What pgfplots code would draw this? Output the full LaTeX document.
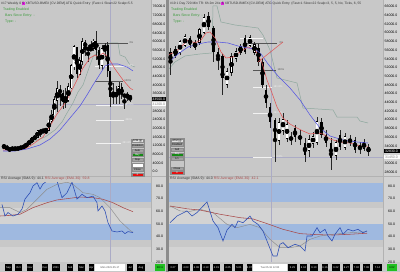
\documentclass[border=0pt]{standalone}
\usepackage{pgfplots}
\pgfplotsset{compat=1.18}
\usepackage{pgfplotstable}
\usepackage{fontspec}
\setmainfont{Liberation Sans}

\definecolor{bgc}{HTML}{C8C8C8}
\definecolor{rsilight}{HTML}{D3D3D3}
\definecolor{band}{HTML}{9FB9E0}
\definecolor{colbg}{HTML}{D3D3D3}
\definecolor{sepc}{HTML}{8C8C8C}
\definecolor{emared}{HTML}{E25555}
\definecolor{emablue}{HTML}{5555E2}
\definecolor{trail}{HTML}{8EA89E}
\definecolor{rsiblue}{HTML}{2F50B5}
\definecolor{rsired}{HTML}{A84A4A}
\definecolor{rsigrey}{HTML}{8C8C8C}
\definecolor{cross}{HTML}{ABABC6}
\definecolor{txtgreen}{HTML}{3A9A3A}
\definecolor{fibdark}{HTML}{555555}
\definecolor{fiblight}{HTML}{F2F2F2}
\definecolor{btngrey}{HTML}{A2A2A2}
\definecolor{btngreen}{HTML}{168A16}
\definecolor{btnred}{HTML}{E51010}
\definecolor{tagmag}{HTML}{E020E0}
\definecolor{timegreen}{HTML}{22C022}

\newcommand{\tf}{\fontsize{3.5}{4}\selectfont}
\newcommand{\tfh}{\fontsize{3.3}{4}\selectfont}
\newcommand{\tfx}{\fontsize{2.6}{3}\selectfont}
\newcommand{\magtag}[1]{{\setlength{\fboxsep}{0.4pt}\colorbox{tagmag}{#1}}}

% weekly candles (left)
\pgfplotstableread{
x o h l c
4.0 11650 11800 11150 11660
9.6 10250 10600 9900 10320
12.4 10320 11100 10200 10770
20.8 10700 11480 10550 11380
23.6 11380 11720 11230 11500
26.4 11500 13350 11400 13030
29.2 13030 14000 12900 13780
32.0 13780 15970 13250 15480
34.8 15480 16500 14850 15960
37.6 15960 18800 15800 18680
43.2 18180 19900 18000 19150
46.0 19150 19400 17600 19270
48.8 19270 24300 19000 23480
51.6 23480 28400 22400 26280
54.4 26280 34800 26100 33000
57.2 33000 41900 27700 38150
65.6 32260 38500 29150 33100
68.4 33100 40950 32300 38900
71.2 38900 49700 37900 48580
74.0 48580 58300 47000 57480
79.6 45130 52640 44950 50970
82.4 50970 61780 49270 59770
90.8 55840 60100 55500 57090
93.6 57090 61000 55400 60000
102.0 49100 58460 47000 56600
104.8 56600 59500 53000 58200
113.2 34700 40800 31200 35600
116.0 35600 39400 31100 35800
118.8 35800 41300 31000 39000
127.2 34700 36600 32700 35300
}\leftup
\pgfplotstableread{
x o h l c
6.8 11660 12090 9900 10250
15.2 10770 10800 10150 10710
18.0 10710 10950 10400 10700
40.4 18680 19480 16200 18180
60.0 38150 40100 30300 36000
62.8 36000 37800 28850 32260
76.8 57480 57500 43000 45130
85.2 59770 60600 53270 57350
88.0 57350 58300 50400 55840
96.4 60000 64850 51600 56150
99.2 56150 57500 47100 49100
107.6 58200 59600 43800 46400
110.4 46400 46400 30000 34700
121.6 39000 41000 33300 35500
124.4 35500 36000 28800 34700
130.0 35300 35400 32100 33500
}\leftdown
% 36h candles (right)
\pgfplotstableread{
x o h l c
175.5 54900 56960 54210 56040
180 55590 58340 54900 57880
185 57190 59720 56730 59030
195 56730 58340 56040 57650
199.5 57880 61100 57190 60640
204 60180 64320 59720 63400
227 48230 51910 47310 50990
231.5 50990 55360 50070 54440
236 54210 56500 53290 55590
240.5 55590 57420 54900 56730
250 57190 59490 56730 58800
254.5 55590 57880 54900 57190
279 35350 40410 34200 39260
283 37650 41560 36500 39950
287 35810 39950 34890 38800
309 33050 36500 31450 35350
313 34660 37190 33520 36040
317 34890 40640 34200 39490
336 31900 35350 30760 34660
345 33740 36960 33050 36040
364 33520 35580 32820 34660
}\rightup
\pgfplotstableread{
x o h l c
170.5 55590 56500 50300 53060
190 58800 59260 56500 57190
208.5 63860 64780 60640 61330
213.5 61100 61560 53290 55590
218 55590 56500 51450 53750
222.5 54670 55130 45700 49610
245 58800 59490 55130 55590
258.5 56500 57420 52370 53290
262.5 53290 54210 47310 47990
266 46850 47990 42710 43860
270 42940 43860 38110 39490
275 39950 40410 30300 35350
291 36040 37190 34200 35350
295 38110 38800 34890 36040
300 36500 37650 34200 35350
305 34660 35810 30300 31900
321.5 39490 40410 35810 36500
326 36500 37650 33740 34660
331 34660 35810 28460 31220
340 36500 37650 33050 33740
350 35350 36500 33970 34890
355 35350 36040 32360 33050
360 34200 34890 32140 33050
368.5 33740 34430 31680 32600
}\rightdown

% #1 up table, #2 down table, #3 white body width, #4 black width, #5 min half body, #6 outline pad
\newcommand{\drawcandles}[6]{%
\addplot[only marks, mark=none, error bars/.cd, y dir=both, y explicit, error mark=none,
  error bar style={draw=black!85, line width=0.35pt}]
  table[x=x, y expr={(\thisrow{h}+\thisrow{l})/2}, y error expr={(\thisrow{h}-\thisrow{l})/2}] {#1};
\addplot[only marks, mark=none, error bars/.cd, y dir=both, y explicit, error mark=none,
  error bar style={draw=black!85, line width=0.35pt}]
  table[x=x, y expr={(\thisrow{h}+\thisrow{l})/2}, y error expr={(\thisrow{h}-\thisrow{l})/2}] {#2};
\addplot[only marks, mark=none, error bars/.cd, y dir=both, y explicit, error mark=none,
  error bar style={draw=black, line width=#4}]
  table[x=x, y expr={(\thisrow{o}+\thisrow{c})/2}, y error expr={abs(\thisrow{c}-\thisrow{o})/2+#5}] {#2};
\addplot[only marks, mark=none, error bars/.cd, y dir=both, y explicit, error mark=none,
  error bar style={draw=black, line width=#4}]
  table[x=x, y expr={(\thisrow{o}+\thisrow{c})/2}, y error expr={abs(\thisrow{c}-\thisrow{o})/2+#5+#6}] {#1};
\addplot[only marks, mark=none, error bars/.cd, y dir=both, y explicit, error mark=none,
  error bar style={draw=white, line width=#3}]
  table[x=x, y expr={(\thisrow{o}+\thisrow{c})/2}, y error expr={abs(\thisrow{c}-\thisrow{o})/2+#5}] {#1};
}

\pgfplotsset{
  panel/.style={scale only axis, anchor=south west,
    axis x line=none, axis y line*=right, y axis line style={draw=none},
    ytick style={draw=none}, scaled y ticks=false,
    yticklabel style={font=\tf, inner sep=0pt, xshift=1.5pt, text=black},
    /pgf/number format/fixed, /pgf/number format/fixed zerofill,
    /pgf/number format/precision=1, /pgf/number format/1000 sep={},
    /pgf/number format/assume math mode=true},
  fibd/.style={fibdark, line width=0.5pt},
  fibl/.style={fiblight, line width=0.5pt},
}

\newcommand{\btn}[5]{\node[fill=#3, draw=black!45, line width=0.2pt, minimum width=11.5pt,
  minimum height=3.2pt, inner sep=0pt, text=#4, font=\tfx] at (#1,#2) {#5};}
\newcommand{\tb}[3]{\node[fill=black, text=white, minimum width=#2pt, minimum height=6.5pt,
  inner sep=0pt, font=\tfx] at (#1,4.6) {#3};}

\begin{document}
\begin{tikzpicture}[x=1pt,y=1pt]
\useasboundingbox (0,0) rectangle (400,272);
\fill[bgc] (0,0) rectangle (400,272);
\fill[colbg] (151,10) rectangle (166,272);
\fill[colbg] (383,10) rectangle (400,272);
% RSI backgrounds
\fill[rsilight] (0,48) rectangle (151,63.7);
\fill[rsilight] (0,10) rectangle (151,25.2);
\fill[rsilight] (169,48) rectangle (383,63.7);
\fill[rsilight] (169,10) rectangle (383,25.2);
\fill[band] (0,70.3) rectangle (151,89);
\fill[band] (0,31.5) rectangle (151,48);
\fill[band] (169,70.3) rectangle (383,89);
\fill[band] (169,31.5) rectangle (383,48);
% separators
\fill[sepc] (166,0) rectangle (168.7,272);
\draw[black!30, line width=0.3pt] (151,10) -- (151,272);
\draw[black!30, line width=0.3pt] (383,10) -- (383,272);
\draw[black!30, line width=0.3pt] (0,95.5) -- (166,95.5);
\draw[black!30, line width=0.3pt] (169,95.5) -- (400,95.5);
% crosshairs
\draw[cross, line width=0.4pt] (110,10) -- (110,272);
\draw[cross, line width=0.4pt] (0,168) -- (151,168);
\draw[cross, line width=0.4pt] (271,10) -- (271,272);
\draw[cross, line width=0.4pt] (169,115) -- (383,115);

% ---------- left price ----------
\begin{axis}[panel, at={(0pt,96pt)}, width=151pt, height=176pt,
  xmin=0, xmax=151, ymin=-1977, ymax=79124,
  ytick={0,4000,8000,12000,16000,20000,24000,28000,36000,40000,44000,48000,52000,56000,60000,64000,68000,72000,76000}]
\addplot[trail, line width=0.5pt] coordinates {(25,11390) (35,14150) (45,15990) (55,19220) (62,22910) (67,27050) (73,31660) (78,36730) (83,39960) (90,49170) (93,52860) (100,56090) (105,57000) (110,59310) (118,59310) (120,53780) (125,52860) (130,49170) (135,48250)};
\addplot[fibd] coordinates {(96,59310) (128,59310)};
\addplot[fibl] coordinates {(95,48710) (127,48710)};
\addplot[fibd] coordinates {(95,41800) (123,41800)};
\addplot[fibl] coordinates {(96,30740) (123,30740)};
\addplot[fibl] coordinates {(96,23830) (124,23830)};
\addplot[fibl] coordinates {(96,13230) (121,13230)};
\node[anchor=west, font=\tfx, text=fibdark, inner sep=0.3pt] at (axis cs:129,59310) {0\%};
\node[anchor=west, font=\tfx, text=fiblight, inner sep=0.3pt] at (axis cs:128,48710) {50\%};
\node[anchor=west, font=\tfx, text=fibdark, inner sep=0.3pt] at (axis cs:124,41800) {100\%};
\node[anchor=west, font=\tfx, text=fiblight, inner sep=0.3pt] at (axis cs:124,30740) {161.8\%};
\node[anchor=west, font=\tfx, text=fiblight, inner sep=0.3pt] at (axis cs:125,23830) {200\%};
\node[anchor=west, font=\tfx, text=fiblight, inner sep=0.3pt] at (axis cs:122,13230) {261.8\%};
\drawcandles{\leftup}{\leftdown}{1.3pt}{1.95pt}{150}{220}
\addplot[emared, line width=0.55pt] coordinates {(3,10000) (15,10000) (25,10470) (33,12770) (43,16000) (50,21060) (57,26590) (63,30280) (67,33040) (72,37650) (77,42260) (83,47790) (90,52400) (95,53780) (98,52860) (103,54700) (108,52860) (115,47330) (123,42260) (130,38570) (133,37650)};
\addplot[emablue, line width=0.55pt] coordinates {(3,9540) (15,9540) (27,10470) (40,12310) (50,15070) (60,19220) (70,24750) (80,30280) (87,35350) (93,39960) (100,45030) (105,48710) (110,49630) (118,49630) (127,48250) (133,46410)};
\end{axis}

% ---------- right price ----------
\begin{axis}[panel, at={(169pt,96pt)}, width=214pt, height=176pt,
  xmin=169, xmax=383, ymin=27078, ymax=67540,
  ytick={28000,30000,34000,36000,38000,40000,42000,44000,46000,48000,50000,52000,54000,56000,58000,60000,62000,64000,66000}]
\addplot[trail, line width=0.5pt] coordinates {(168,51450) (175,53290) (185,54670) (200,55130) (212,55360) (213,66160) (217,66160) (221,62480) (235,61790) (258,61100) (263,59490) (270,56040) (277,49610) (297,48460) (303,42710) (333,42250) (337,40640) (357,40640) (360,39720) (368,39260)};
\addplot[fibd] coordinates {(243,57650) (277,57650)};
\addplot[fibd] coordinates {(253,51450) (276,51450)};
\addplot[fibl] coordinates {(253,47540) (272,47540)};
\addplot[fibl] coordinates {(253,41560) (272,41560)};
\addplot[fibl] coordinates {(253,31450) (272,31450)};
\addplot[fiblight, line width=0.6pt] coordinates {(240,58800) (263,58800)};
\node[anchor=west, font=\tfx, text=fibdark, inner sep=0.3pt] at (axis cs:279,57650) {0\%};
\node[anchor=west, font=\tfx, text=fibdark, inner sep=0.3pt] at (axis cs:277,51450) {100\%};
\node[anchor=west, font=\tfx, text=fiblight, inner sep=0.3pt] at (axis cs:273,47540) {161.8\%};
\node[anchor=west, font=\tfx, text=fiblight, inner sep=0.3pt] at (axis cs:273,41560) {261.8\%};
\node[anchor=west, font=\tfx, text=fiblight, inner sep=0.3pt] at (axis cs:273,31450) {423.6\%};
\drawcandles{\rightup}{\rightdown}{1.9pt}{2.6pt}{80}{110}
\addplot[emared, line width=0.55pt] coordinates {(168,54900) (175,55590) (181,56730) (188,58340) (195,57650) (201,58340) (206,59950) (210,60180) (215,58800) (221,55590) (226,54210) (233,54440) (240,55590) (248,56730) (255,56040) (258,54900) (262,53060) (267,49150) (272,46160) (277,42940) (283,40410) (290,39030) (297,38110) (303,37420) (310,36730) (317,36960) (323,36730) (330,35580) (340,34890) (350,34660) (360,33970) (368,33740)};
\addplot[emablue, line width=0.55pt] coordinates {(168,53060) (178,55130) (188,56730) (198,57420) (208,57880) (218,57880) (228,57650) (238,56960) (248,56500) (255,56270) (261,55130) (268,52830) (278,50070) (290,47310) (300,44550) (310,41100) (320,38110) (330,36270) (343,35350) (357,34890) (368,34660)};
\addplot[emared, line width=0.5pt] coordinates {(258,53290) (283,57880)};
\end{axis}

% ---------- left RSI ----------
\begin{axis}[panel, at={(0pt,10pt)}, width=151pt, height=79pt,
  xmin=0, xmax=151, ymin=20, ymax=82.37, ytick={20,30,...,80},
  yticklabel style={xshift=3.5pt}]
\addplot[rsigrey, line width=0.45pt] coordinates {(0,62.9) (10,62.9) (20,59) (27,61.6) (37,69.5) (47,77.4) (57,81.3) (67,83) (73,81.3) (83,74.7) (93,73.4) (100,70.8) (110,62.9) (120,52.4) (130,45) (133,43.5)};
\addplot[rsired, line width=0.55pt] coordinates {(0,56.3) (10,56.8) (20,57.7) (33,62.9) (47,66.8) (57,69) (67,70) (80,71.3) (93,70.8) (103,69.5) (113,66.8) (123,62.9) (133,59.7)};
\addplot[rsiblue, line width=0.6pt] coordinates {(2,65.5) (5,56.3) (8,59) (13,56.3) (18,57.7) (22,61.8) (25,69.7) (30,74.7) (33,80) (37,82.6) (40,77.6) (43,81.6) (47,84) (52,86) (57,84) (62,70.8) (67,74.7) (72,83) (77,69.7) (82,73.4) (87,70.8) (93,72) (97,66.8) (98,60.3) (102,64.2) (105,60.3) (108,51) (112,44.5) (117,43.7) (122,44.5) (125,42.4) (128,44) (133,43.2)};
\end{axis}

% ---------- right RSI ----------
\begin{axis}[panel, at={(169pt,10pt)}, width=214pt, height=79pt,
  xmin=169, xmax=383, ymin=20, ymax=82.37, ytick={20,30,...,80},
  yticklabel style={xshift=3.5pt}]
\addplot[rsigrey, line width=0.45pt] coordinates {(170,64.2) (180,60.3) (190,60) (200,61.6) (213,59) (227,49.7) (237,47.1) (250,49.7) (260,47.1) (270,37.9) (280,31.3) (290,31.3) (300,32.6) (310,37.9) (320,40.5) (333,41.9) (350,43.1) (367,44)};
\addplot[rsired, line width=0.55pt] coordinates {(170,64.2) (187,62) (200,61) (220,57.7) (240,55) (253,54) (267,50.3) (283,45.8) (300,42.4) (317,41.6) (333,41.3) (350,41.9) (367,42.7)};
\addplot[rsiblue, line width=0.6pt] coordinates {(170,51) (177,56.3) (187,60.3) (192,56.3) (197,59) (200,61.6) (207,67.4) (213,52.4) (218,47.1) (223,36.6) (227,45.2) (232,49.7) (235,47.1) (238,52.4) (243,51) (250,56.3) (253,52.4) (258,49.7) (263,44.5) (267,36.6) (273,24.7) (277,24.7) (280,34) (283,35.3) (288,31.3) (295,34) (300,32.6) (305,28.7) (307,40.5) (312,40.5) (317,47.1) (320,43.1) (325,45.8) (328,40.5) (332,36.6) (335,41.9) (340,47.1) (343,41.9) (348,45.8) (353,44.5) (358,45.8) (363,43.1) (367,44.5)};
\end{axis}

% ---------- overlays ----------
% headers
\node[anchor=west, inner sep=0pt, font=\tfh, text=black!80] at (1,268.3)
  {\#17 Weekly 0 \magtag{5} XBTUSD-BMEX [CV-DEM] ATG Quick Entry\enspace (Fast=1 Slow=22 Scalp=5.5};
\node[anchor=west, inner sep=0pt, font=\tfh, text=black!80] at (170,268.3)
  {\#19 1 Day 720 Min TR: 6h 2m 24s \magtag{5} XBTUSD-BMEX [CV-DEM] ATG Quick Entry\enspace (Fast=1 Slow=22 Scalp=3, 5, 5, No, Ticks, 6, 55};
\node[anchor=west, inner sep=0pt, font=\tf, text=txtgreen] at (3,262) {Trading Enabled};
\node[anchor=west, inner sep=0pt, font=\tf, text=txtgreen] at (5,256.5) {Bars Since Entry: -};
\node[anchor=west, inner sep=0pt, font=\tf, text=txtgreen] at (5,250.5) {Type: -};
\node[anchor=west, inner sep=0pt, font=\tf, text=txtgreen] at (171,262) {Trading Enabled};
\node[anchor=west, inner sep=0pt, font=\tf, text=txtgreen] at (173,256.5) {Bars Since Entry: -};
\node[anchor=west, inner sep=0pt, font=\tf, text=txtgreen] at (173,250.5) {Type: -};
% price tags on the scales
\node[anchor=west, fill=black, text=white, font=\tf, inner sep=0.5pt, minimum width=14.5pt] at (151.3,173) {33500.0};
\node[anchor=west, fill=white, text=black!50, font=\tf, inner sep=0.5pt, minimum width=14.5pt] at (151.3,168) {31200.0};
\node[anchor=west, fill=black, text=white, font=\tf, inner sep=0.5pt, minimum width=16pt] at (383.3,121) {32830.0};
\node[anchor=west, fill=white, text=black!50, font=\tf, inner sep=0.5pt, minimum width=16pt] at (383.3,115) {31450.0};
% RSI titles
\node[anchor=west, inner sep=0pt, font=\tf] at (1,93)
  {\textcolor{black!80}{RSI Average (SMA 9): 44.1}\ \textcolor{rsired}{RSI Average (EMA 30): 59.8}};
\node[anchor=west, inner sep=0pt, font=\tf] at (170,93)
  {\textcolor{black!80}{RSI Average (SMA 9): 44.0}\ \textcolor{rsired}{RSI Average (EMA 30): 42.1}};
% trade widgets
\fill[black!22, draw=black!45, line width=0.2pt] (130.8,95.8) rectangle (144.2,133.3);
\btn{137.5}{131}{black!12}{black}{ATM (g)}
\btn{137.5}{126.5}{btngrey}{black}{Disabled}
\btn{137.5}{121.5}{btngrey}{black}{Auto}
\btn{137.5}{117}{btngreen}{white}{Buy}
\btn{137.5}{112}{btngrey}{black}{Stop}
\node[fill=white, draw=black!45, line width=0.2pt, minimum width=11.5pt, minimum height=4.5pt, inner sep=0pt] at (137.5,107) {};
\btn{137.5}{102}{btngrey}{black}{Close}
\btn{137.5}{97.7}{btnred}{white}{X}
\fill[black!22, draw=black!45, line width=0.2pt] (170.3,97.8) rectangle (183.7,133.6);
\btn{177}{131.3}{black!12}{black}{ATM (g)}
\btn{177}{127}{btngrey}{black}{Disabled}
\btn{177}{122}{btngrey}{black}{Sell}
\btn{177}{117.7}{btngreen}{white}{Buy}
\btn{177}{113.7}{btngrey}{black}{1/1}
\btn{177}{103.7}{btngrey}{black}{Close}
\btn{177}{99.7}{btnred}{white}{X}
% time axis
\tb{8.5}{7}{Sep}
\tb{18.5}{7}{Oct}
\tb{30}{6.5}{Nov}
\tb{45}{6.5}{Dec}
\tb{56}{8}{2021}
\tb{70}{6.5}{Feb}
\tb{81.5}{7}{Mar}
\tb{91.5}{5}{Apr}
\node[fill=white, text=black!70, minimum width=30pt, minimum height=6.5pt, inner sep=0pt, font=\tfx] at (110,4.6) {Mon 2021.05.17};
\tb{130}{6.5}{Jul}
\tb{141}{8}{Aug}
\node[fill=timegreen, text=black, minimum width=10pt, minimum height=6.5pt, inner sep=0pt, font=\tfx] at (160,4.6) {58:11};
\tb{173}{10}{3.27}
\tb{186}{8}{4.03}
\tb{196.5}{7}{4.08}
\tb{206}{8}{4.13}
\tb{216.5}{7}{4.19}
\tb{228}{8}{4.25}
\tb{239}{8}{5.01}
\tb{249.5}{5}{5.07}
\node[fill=white, text=black!70, minimum width=34pt, minimum height=6.5pt, inner sep=0pt, font=\tfx] at (270,4.6) {Tue 05.18 12:00};
\tb{292.5}{9}{5.29}
\tb{303.5}{7}{6.04}
\tb{314}{8}{6.10}
\tb{325}{6.5}{6.16}
\tb{336}{8}{6.22}
\tb{346.5}{7}{6.27}
\tb{356.5}{7}{7.02}
\tb{366.5}{7}{7.08}
\tb{377.5}{9}{7.14}
\node[fill=timegreen, text=black, minimum width=10pt, minimum height=6.5pt, inner sep=0pt, font=\tfx] at (392,4.6) {6:02};
\end{tikzpicture}
\end{document}
